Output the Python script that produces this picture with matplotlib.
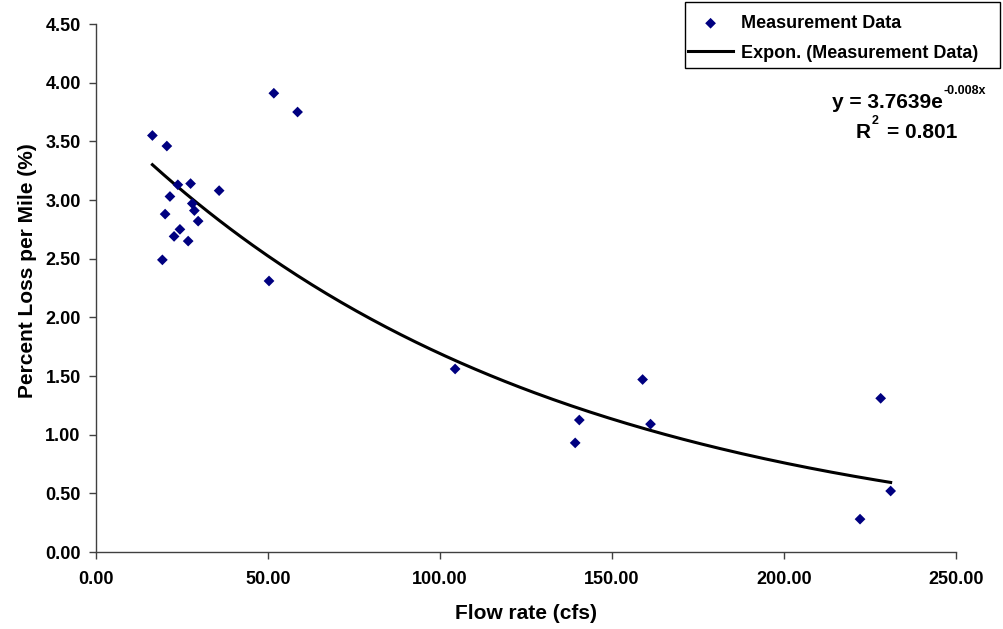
import numpy as np
from matplotlib import pyplot as plt
from matplotlib.patches import Rectangle
from matplotlib.ticker import FormatStrFormatter

plt.rcParams["font.family"] = ["Liberation Sans", "DejaVu Sans"]
plt.rcParams["font.weight"] = "bold"

flow = [16.4, 20.6, 23.8, 27.5, 35.8, 21.5, 28.0, 28.6, 20.1, 29.7,
        24.4, 22.7, 26.8, 19.3, 51.7, 58.6, 50.3, 104.4, 158.9, 140.5,
        161.2, 139.3, 228.1, 231.0, 222.1]
loss = [3.55, 3.46, 3.13, 3.14, 3.08, 3.03, 2.97, 2.91, 2.88, 2.82,
        2.75, 2.69, 2.65, 2.49, 3.91, 3.75, 2.31, 1.56, 1.47, 1.125,
        1.09, 0.93, 1.31, 0.52, 0.28]

# exponential trendline shown on the chart
trend_a = 3.7639
trend_b = -0.008
r_squared = 0.801

x_ticks = [0, 50, 100, 150, 200, 250]
y_ticks = [0, 0.5, 1.0, 1.5, 2.0, 2.5, 3.0, 3.5, 4.0, 4.5]

W, H = 1004, 629
fig = plt.figure(figsize=(W / 100, H / 100), dpi=100)
ax = fig.add_axes([0.0956, 0.1224, 0.8566, 0.8394])

ax.scatter(flow, loss, marker="D", s=30, c="#000080", edgecolors="none",
           label="Measurement Data", zorder=3)
xs = np.linspace(min(flow), max(flow), 200)
ax.plot(xs, trend_a * np.exp(trend_b * xs), c="k", linewidth=2.2,
        label="Expon. (Measurement Data)", zorder=2)

ax.set_xlim(0, 250)
ax.set_ylim(0, 4.5)
ax.set_xticks(x_ticks)
ax.set_yticks(y_ticks)
ax.xaxis.set_major_formatter(FormatStrFormatter("%.2f"))
ax.yaxis.set_major_formatter(FormatStrFormatter("%.2f"))
ax.tick_params(labelsize=13, length=5, width=1, color="#404040")
ax.tick_params(axis="x", pad=9)
ax.tick_params(axis="y", pad=6)
for lab in ax.get_xticklabels() + ax.get_yticklabels():
    lab.set_fontweight("bold")
for side in ["top", "right"]:
    ax.spines[side].set_visible(False)
for side in ["left", "bottom"]:
    ax.spines[side].set_color("#404040")
    ax.spines[side].set_linewidth(1)

ax.set_xlabel("Flow rate (cfs)", fontsize=15, fontweight="bold", labelpad=11)
ax.set_ylabel("Percent Loss per Mile (%)", fontsize=15, fontweight="bold",
              labelpad=6)
ax.yaxis.label.set_y(0.532)

# legend: no own frame, box drawn separately (Excel pads it unevenly)
leg = fig.legend(loc="upper left", bbox_to_anchor=(688 / W, 1 - 15 / H),
                 borderaxespad=0, borderpad=0, fontsize=13, frameon=False,
                 handlelength=2.5, handletextpad=0.45, labelspacing=0.7)
for t in leg.get_texts():
    t.set_fontweight("bold")
fig.patches.append(Rectangle((685 / W, 1 - 68 / H), 315 / W, 66 / H,
                             transform=fig.transFigure, fill=False,
                             edgecolor="k", linewidth=1))

# trendline equation, drawn as plain text with a small superscript
fig.text(943 / W, 1 - 102 / H, f"y = {trend_a}e", ha="right",
         va="center", fontsize=15, fontweight="bold")
fig.text(944 / W, 1 - 91 / H, f"{trend_b}x", ha="left", va="center",
         fontsize=9, fontweight="bold")
fig.text(856 / W, 1 - 132 / H, "R", ha="left", va="center",
         fontsize=15, fontweight="bold")
fig.text(872 / W, 1 - 121 / H, "2", ha="left", va="center",
         fontsize=9, fontweight="bold")
fig.text(957 / W, 1 - 132 / H, f"= {r_squared}", ha="right",
         va="center", fontsize=15, fontweight="bold")

fig.savefig("out.png", dpi=100)
